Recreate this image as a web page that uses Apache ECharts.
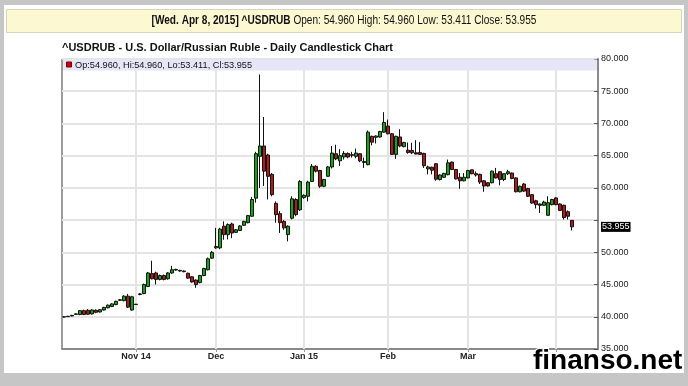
<!DOCTYPE html>
<html><head><meta charset="utf-8">
<script src="https://cdn.jsdelivr.net/npm/echarts@6/dist/echarts.min.js"></script>
<style>html,body{margin:0;padding:0;background:#fff;}#c{width:688px;height:386px;}</style>
</head><body><div id="c"></div>
<script>
// ---- data ----
const firstDay = [2014, 10, 8];           // first trading day shown
const holidays = ['2014-12-25', '2015-01-01', '2015-04-03'];
const padDays = 6;                         // empty slots after the last candle
const tickMonths = ['2014-11', '2014-12', '2015-01', '2015-02', '2015-03', '2015-04'];
const tickLabels = ['Nov 14', 'Dec', 'Jan 15', 'Feb', 'Mar', ''];
const yTicks = [35, 40, 45, 50, 55, 60, 65, 70, 75, 80];

const opens = [39.95,40.02,40.12,40.38,40.35,40.95,41.00,40.45,41.00,40.75,
41.05,41.40,41.60,41.90,42.55,42.50,43.20,41.05,41.95,43.45,
43.60,44.70,46.70,46.80,45.80,46.40,45.90,46.80,47.25,47.10,
47.00,46.75,46.20,45.70,45.30,46.40,47.30,49.10,50.70,50.70,
54.05,52.75,54.40,53.10,53.40,54.20,54.60,55.60,58.40,64.90,
66.50,65.10,62.10,57.60,56.00,54.80,52.75,55.30,58.20,56.60,
58.50,58.70,61.00,63.35,62.70,60.25,61.80,63.25,65.30,64.20,
64.80,65.35,65.05,64.90,65.30,64.10,63.60,68.00,67.85,67.90,
68.65,69.60,68.40,65.20,67.90,66.40,65.85,65.80,65.45,65.50,
65.35,62.95,63.20,63.75,61.30,61.65,62.05,64.00,62.85,61.65,
61.10,61.55,62.80,62.20,62.10,61.10,60.80,60.80,62.20,62.50,
61.30,62.20,62.30,61.55,59.40,60.60,59.90,58.95,58.00,57.50,
57.30,55.75,57.40,58.45,57.50,57.30,56.30,54.960];
const closes = [40.00,40.07,40.22,40.45,40.95,40.35,40.40,41.05,40.70,41.10,
41.45,41.80,42.00,42.40,42.65,43.20,41.50,43.10,41.90,43.55,
45.00,46.80,45.90,45.80,46.40,45.80,46.80,47.30,47.35,47.20,
47.10,46.00,45.40,45.00,46.40,47.50,49.00,50.00,50.90,53.60,
52.75,54.30,53.00,53.50,54.10,54.80,55.70,58.20,65.30,66.50,
62.60,61.80,58.95,55.85,54.60,53.80,54.05,58.30,55.85,61.00,
58.85,60.90,63.35,62.60,60.25,61.30,63.25,65.40,64.50,65.00,
65.35,64.80,65.15,65.40,64.20,63.95,68.65,67.10,68.05,68.75,
70.15,68.40,65.20,68.00,66.50,67.05,65.50,65.45,65.25,65.20,
63.45,63.25,62.75,61.35,62.00,62.25,63.90,62.85,61.40,61.10,
61.65,62.70,62.20,62.00,60.90,60.30,60.30,62.60,61.55,61.30,
62.20,62.50,61.45,59.40,60.25,59.50,58.70,57.65,57.40,57.30,
57.80,57.70,58.20,57.40,56.50,55.40,55.60,53.955];
const lows = [39.90,39.98,40.08,40.30,40.25,40.25,40.30,40.35,40.55,40.65,
40.95,41.30,41.50,41.80,42.45,42.40,41.35,40.95,41.85,43.35,
43.50,44.60,45.80,45.00,45.65,45.65,45.75,46.65,47.15,47.00,
46.90,45.90,45.30,44.50,45.20,46.30,47.20,49.00,50.55,50.50,
51.95,52.00,52.20,53.00,53.30,54.10,54.50,55.50,57.70,60.00,
60.30,58.20,58.70,54.60,53.00,53.50,51.70,55.10,55.60,56.40,
58.30,57.90,60.90,62.40,60.00,60.10,61.70,63.00,64.30,63.40,
64.40,64.60,64.70,64.60,64.00,63.10,63.50,66.60,66.90,67.80,
68.55,68.30,65.10,64.50,66.30,66.30,65.30,65.25,65.20,65.10,
63.10,62.10,62.10,61.10,61.15,61.55,61.95,62.75,61.30,59.85,
61.00,61.45,62.10,61.75,60.60,59.40,60.20,60.70,61.45,60.40,
61.05,62.00,61.35,59.30,59.30,59.35,58.60,57.55,56.80,56.10,
57.20,55.65,57.30,57.30,56.40,55.10,55.10,53.411];
const highs = [40.08,40.15,40.30,40.55,41.05,41.10,41.20,41.15,41.15,41.20,
41.55,41.90,42.10,42.50,42.75,43.35,43.55,43.25,42.00,43.70,
45.15,46.95,48.70,47.00,46.55,46.55,46.95,47.90,47.45,47.30,
47.20,46.85,46.30,45.80,46.50,47.60,49.20,50.20,53.80,53.80,
54.80,54.50,54.60,53.60,54.20,54.90,55.80,58.60,65.60,77.60,
71.00,65.30,62.30,57.90,56.40,55.00,54.20,58.70,58.40,61.20,
59.00,61.10,63.70,63.50,62.80,61.40,63.40,66.50,66.70,66.00,
65.70,65.50,65.60,66.10,65.40,64.70,68.90,68.10,68.15,68.85,
71.75,70.60,68.50,68.10,69.10,67.15,67.05,67.00,67.40,67.10,
65.45,63.45,63.30,63.85,62.10,62.35,64.40,64.10,62.95,62.30,
62.30,62.80,62.85,62.55,62.20,61.20,60.90,62.70,63.10,62.60,
62.30,62.80,62.40,61.65,60.35,60.75,60.00,59.05,58.15,57.60,
58.00,58.70,58.30,58.55,57.60,57.40,56.50,54.960];

// ---- categories: trading days ----
const pad2 = v => (v < 10 ? '0' : '') + v;
const categories = [];
{
  const d = new Date(Date.UTC(firstDay[0], firstDay[1] - 1, firstDay[2]));
  while (categories.length < opens.length + padDays) {
    const s = d.getUTCFullYear() + '-' + pad2(d.getUTCMonth() + 1) + '-' + pad2(d.getUTCDate());
    const wd = d.getUTCDay();
    if (wd !== 0 && wd !== 6 && holidays.indexOf(s) < 0) categories.push(s);
    d.setUTCDate(d.getUTCDate() + 1);
  }
}
const tickIdx = tickMonths.map(m => categories.findIndex(c => c.indexOf(m) === 0));
const last = opens.length - 1;
const fmt = v => v.toFixed(3);
const candleData = opens.map((o, i) => [o, closes[i], lows[i], highs[i]]);

const lastDate = new Date(categories[last] + 'T00:00:00Z');
const dayN = ['Sun', 'Mon', 'Tue', 'Wed', 'Thu', 'Fri', 'Sat'];
const monN = ['Jan', 'Feb', 'Mar', 'Apr', 'May', 'Jun', 'Jul', 'Aug', 'Sep', 'Oct', 'Nov', 'Dec'];
const headDate = '[' + dayN[lastDate.getUTCDay()] + '. ' + monN[lastDate.getUTCMonth()] + ' ' + lastDate.getUTCDate() + ', ' + lastDate.getUTCFullYear() + '] ^USDRUB';
const headVals = ' Open: ' + fmt(opens[last]) + ' High: ' + fmt(highs[last]) + ' Low: ' + fmt(lows[last]) + ' Close: ' + fmt(closes[last]);
const legendText = 'Op:' + fmt(opens[last]) + ', Hi:' + fmt(highs[last]) + ', Lo:' + fmt(lows[last]) + ', Cl:' + fmt(closes[last]);

const chart = echarts.init(document.getElementById('c'), null, { renderer: 'canvas', width: 688, height: 386 });
const FONT = '"Liberation Sans", Arial, sans-serif';
chart.setOption({
  animation: false,
  backgroundColor: '#ffffff',
  textStyle: { fontFamily: FONT },
  grid: { left: 62, right: 90, top: 59, bottom: 37, containLabel: false, outerBoundsMode: 'none',
          show: true, borderColor: '#3a3a3a', borderWidth: 1, backgroundColor: 'transparent' },
  xAxis: {
    type: 'category', data: categories, boundaryGap: true,
    axisLine: { show: true, lineStyle: { color: '#8a8a8a', width: 2 } },
    axisTick: { show: true, alignWithLabel: true, length: 3, interval: (i) => tickIdx.indexOf(i) >= 0, lineStyle: { color: '#999' } },
    axisLabel: { show: true, interval: (i) => tickIdx.indexOf(i) >= 0, formatter: (v, i) => { const k = tickIdx.indexOf(i); return k >= 0 ? tickLabels[k] : ''; },
                 fontSize: 9, fontWeight: 'bold', color: '#222', margin: 3, fontFamily: FONT },
    splitLine: { show: false }
  },
  yAxis: {
    type: 'value', position: 'right', min: yTicks[0], max: yTicks[yTicks.length - 1], interval: yTicks[1] - yTicks[0],
    axisLine: { show: true, lineStyle: { color: '#8a8a8a', width: 2 } },
    axisTick: { show: true, inside: true, length: 4, lineStyle: { color: '#555' } },
    axisLabel: { formatter: v => (Math.abs(v - closes[last]) < 2 ? '' : fmt(v)), fontSize: 9, color: '#222', margin: 3, fontFamily: FONT },
    splitLine: { show: true, lineStyle: { color: '#e4e4e4', width: 2 } }
  },
  series: [
    {
      type: 'line', data: categories.map(() => null), z: 1, silent: true, symbol: 'none',
      markLine: {
        z: 1, silent: true, symbol: ['none', 'none'], animation: false, label: { show: false },
        lineStyle: { color: '#e4e4e4', width: 2, type: 'solid' },
        data: tickIdx.map(i => ({ xAxis: categories[i] }))
      }
    },
    {
      type: 'candlestick', data: candleData, z: 3, barWidth: 3, clip: false,
      itemStyle: { color: '#10a810', color0: '#b5181a', borderColor: '#111', borderColor0: '#111', borderWidth: 1 }
    },
    {
      type: 'line', data: categories.map(() => null), z: 20, silent: true, symbol: 'none', clip: false,
      markLine: {
        z: 20, silent: true, symbol: ['none', 'none'], animation: false,
        lineStyle: { color: 'rgba(0,0,0,0)', width: 0.01 },
        label: { show: true, position: 'end', distance: 3, formatter: fmt(closes[last]), color: '#fff', backgroundColor: '#000',
                 fontSize: 9, padding: [1, 1, 0, 1], fontFamily: FONT },
        data: [{ yAxis: closes[last] }]
      }
    }
  ],
  graphic: [
    { type: 'rect', silent: true, z: 50, shape: { x: 0, y: 0, width: 688, height: 5 }, style: { fill: '#c6c6c6' } },
    { type: 'rect', silent: true, z: 50, shape: { x: 0, y: 0, width: 4, height: 386 }, style: { fill: '#c6c6c6' } },
    { type: 'rect', silent: true, z: 50, shape: { x: 684, y: 0, width: 4, height: 386 }, style: { fill: '#c6c6c6' } },
    { type: 'rect', silent: true, z: 50, shape: { x: 0, y: 373, width: 688, height: 13 }, style: { fill: '#c6c6c6' } },
    { type: 'rect', silent: true, z: 50, shape: { x: 6.5, y: 9.5, width: 675, height: 23 }, style: { fill: '#fcf9d2', stroke: '#d4d4c0', lineWidth: 1 } },
    { type: 'text', silent: true, z: 51, x: 344, y: 21, scaleX: 0.84,
      style: { text: '{b|' + headDate + '}' + headVals, align: 'center', verticalAlign: 'middle', fill: '#111',
               font: '12px "Liberation Sans", Arial, sans-serif',
               rich: { b: { fontWeight: 'bold', fontSize: 12, fontFamily: FONT, fill: '#111' } } } },
    { type: 'text', silent: true, z: 51, x: 62, y: 48,
      style: { text: '^USDRUB - U.S. Dollar/Russian Ruble - Daily Candlestick Chart', align: 'left', verticalAlign: 'middle', fill: '#111',
               font: 'bold 11px "Liberation Sans", Arial, sans-serif' } },
    { type: 'rect', silent: true, z: 40, shape: { x: 63, y: 59.5, width: 534, height: 11 }, style: { fill: '#e6e6f8' } },
    { type: 'rect', silent: true, z: 41, shape: { x: 66.5, y: 62, width: 5, height: 5 }, style: { fill: '#d00000', stroke: '#700', lineWidth: 1 } },
    { type: 'text', silent: true, z: 41, x: 75, y: 65,
      style: { text: legendText, align: 'left', verticalAlign: 'middle', fill: '#111', font: '9.2px "Liberation Sans", Arial, sans-serif' } },
    { type: 'text', silent: true, z: 60, x: 533, y: 375,
      style: { text: 'finanso.net', align: 'left', verticalAlign: 'bottom', fill: '#000',
               font: 'bold 28px "Liberation Sans", Arial, sans-serif', stroke: '#fff', lineWidth: 2 } }
  ]
});
</script></body></html>
